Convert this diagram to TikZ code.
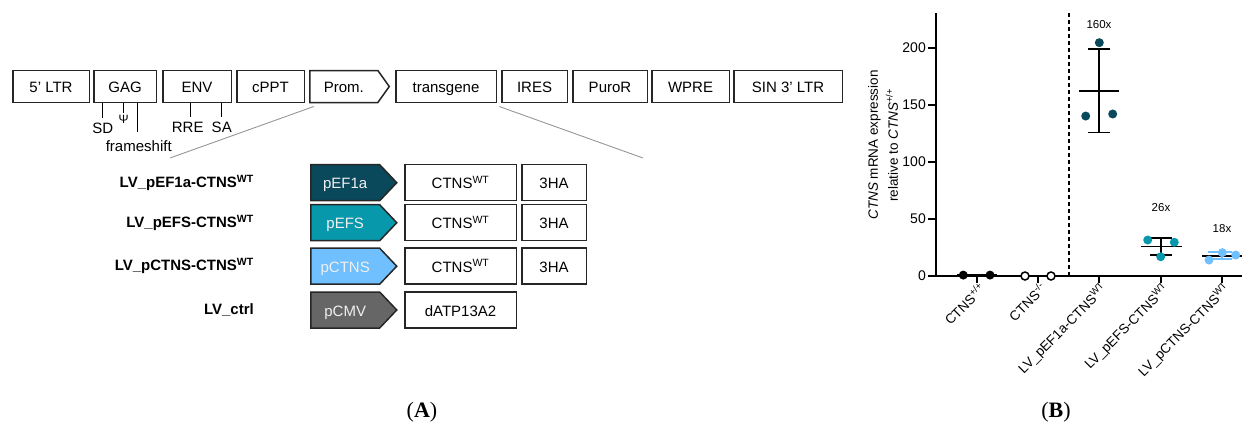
\documentclass[tikz,border=0pt]{standalone}
\usepackage{fontspec}
\setmainfont{Liberation Sans}
\newfontfamily\capfont{Liberation Serif}
\usetikzlibrary{positioning,calc,shapes.symbols}

\definecolor{efa}{RGB}{10,72,92}
\definecolor{efs}{RGB}{8,152,172}
\definecolor{ctnsp}{RGB}{112,192,255}
\definecolor{cmvp}{RGB}{102,102,102}
\definecolor{guide}{RGB}{150,150,150}

\tikzset{
  part/.style={draw=black!85,line width=1.5pt,outer sep=0pt,minimum height=32pt,inner sep=0pt,
    text height=12pt,text depth=0pt,font=\fontsize{15}{18}\selectfont},
  prom/.style={part,shape=signal,signal to=east,signal pointer angle=109},
  cassette/.style={draw=black!85,line width=1.5pt,outer sep=0pt,minimum height=36pt,inner sep=0pt,
    text height=12pt,text depth=0pt,font=\fontsize{15}{18}\selectfont},
  promo/.style={cassette,shape=signal,signal to=east,signal pointer angle=93,
    minimum width=86pt,fill=#1,text=white!88!gray},
  vecname/.style={anchor=east,inner sep=0pt,font=\bfseries\fontsize{15}{18}\selectfont},
  site/.style={inner sep=0pt,font=\fontsize{15}{18}\selectfont},
  axisline/.style={line width=1.6pt},
  errbar/.style={line width=1.6pt},
  datapt/.style={circle,inner sep=0pt,minimum size=9pt,fill=#1},
  ticklab/.style={anchor=east,inner sep=0pt,font=\fontsize{14}{16}\selectfont},
  grplab/.style={rotate=45,anchor=north east,inner sep=0pt,font=\fontsize{13.5}{16}\selectfont},
  foldlab/.style={font=\fontsize{11.5}{14}\selectfont},
}

\begin{document}
\begin{tikzpicture}[x=1pt,y=-1pt]
\useasboundingbox (0,0) rectangle (1250,429);

% vector map
\node[part,minimum width=76.5pt,anchor=west] (ltr5) at (12.75,86.5) {5' LTR};
\node[part,minimum width=62.5pt,right=4.5pt of ltr5] (gag) {GAG};
\node[part,minimum width=68.5pt,right=6.5pt of gag] (env) {ENV};
\node[part,minimum width=67.5pt,right=5.5pt of env] (cppt) {cPPT};
\node[prom,minimum width=79.5pt,right=5.5pt of cppt] (prom) {Prom.};
\node[part,minimum width=100.5pt,right=6.5pt of prom] (tg) {transgene};
\node[part,minimum width=65.5pt,right=5.5pt of tg] (ires) {IRES};
\node[part,minimum width=74.5pt,right=5.5pt of ires] (puro) {PuroR};
\node[part,minimum width=77.5pt,right=4.5pt of puro] (wpre) {WPRE};
\node[part,minimum width=108.5pt,right=4.5pt of wpre] (ltr3) {SIN 3' LTR};

\draw[line width=1pt] ([xshift=9pt]gag.south west) -- ++(0,15) node[site,below=5pt] (sd) {SD};
\draw[line width=1pt] ([xshift=30pt]gag.south west) -- ++(0,10) node[site,below=2pt,font=\fontsize{12}{14}\selectfont] (psi) {Ψ};
\draw[line width=1pt] ([xshift=44pt]gag.south west) -- ++(0,29) node[site,below=9pt,xshift=1pt] (fs) {frameshift};
\draw[line width=1pt] ([xshift=28pt]env.south west) -- ++(0,14) node[site,below=5pt,xshift=-3pt] (rre) {RRE};
\draw[line width=1pt] ([xshift=59pt]env.south west) -- ++(0,14) node[site,below=5pt] (sa) {SA};

\coordinate (zoomL) at (170,158);
\coordinate (zoomR) at (643,158);
\draw[guide,line width=0.9pt] ($(prom.west|-prom.south)+(4,4)$) -- (zoomL);
\draw[guide,line width=0.9pt] ($(tg.south east)+(3,4)$) -- (zoomR);

% constructs
\node[promo=efa,anchor=west] (p1) at (310.75,182.7) {pEF1a};
\node[cassette,minimum width=111.5pt,right=8pt of p1] (c1) {CTNS\textsuperscript{WT}};
\node[cassette,minimum width=64.5pt,right=5.5pt of c1] (h1) {3HA};
\node[vecname] (v1) at (254,182.7) {LV\_pEF1a-CTNS\textsuperscript{WT}};

\node[promo=efs,anchor=west] (p2) at (310.75,222.7) {pEFS};
\node[cassette,minimum width=111.5pt,right=8pt of p2] (c2) {CTNS\textsuperscript{WT}};
\node[cassette,minimum width=64.5pt,right=5.5pt of c2] (h2) {3HA};
\node[vecname] (v2) at (254,222.7) {LV\_pEFS-CTNS\textsuperscript{WT}};

\node[promo=ctnsp,anchor=west] (p3) at (310.75,266.2) {pCTNS};
\node[cassette,minimum width=111.5pt,right=8pt of p3] (c3) {CTNS\textsuperscript{WT}};
\node[cassette,minimum width=64.5pt,right=5.5pt of c3] (h3) {3HA};
\node[vecname] (v3) at (254,266.2) {LV\_pCTNS-CTNS\textsuperscript{WT}};

\node[promo=cmvp,anchor=west] (p4) at (310.75,310) {pCMV};
\node[cassette,minimum width=111.5pt,right=8pt of p4] (c4) {dATP13A2};
\node[vecname] (v4) at (254,310) {LV\_ctrl};

% expression plot
\node[rotate=90,align=center,font=\fontsize{13.5}{20}\selectfont] (ytitle) at (883,145)
  {\textit{CTNS} mRNA expression\\relative to \textit{CTNS}\textsuperscript{+/+}};
\begin{scope}[shift={(936,276)},y=1.1393pt]
\draw[axisline] (0,231) -- (0,0) -- (306,0);
\foreach \v in {0,50,100,150,200}{
  \draw[axisline] (-8,\v) -- (0,\v);
  \node[ticklab] (yt\v) at (-10,\v) {\v};
}
\foreach \x in {41,102,163,225,286}
  \draw[axisline] (\x,0) -- (\x,-6.2);
\draw[axisline,dash pattern=on 4pt off 3pt] (132.7,231) -- (132.7,0);

\node[grplab] (g1) at (42,-4.5) {CTNS\textsuperscript{+/+}};
\node[grplab] (g2) at (103,-4.5) {CTNS\textsuperscript{-/-}};
\node[grplab] (g3) at (164,-4.5) {LV\_pEF1a-CTNS\textsuperscript{WT}};
\node[grplab] (g4) at (226,-4.5) {LV\_pEFS-CTNS\textsuperscript{WT}};
\node[grplab] (g5) at (287,-4.5) {LV\_pCTNS-CTNS\textsuperscript{WT}};

% CTNS+/+ and CTNS-/-
\draw[errbar] (21,1) -- (61,1);
\node[datapt=black] at (27.3,0.8) {};
\node[datapt=black] at (54,0.8) {};
\draw[errbar] (84,0) -- (121,0);
\node[datapt=white,draw=black,line width=1.5pt,minimum size=8pt] at (89,0) {};
\node[datapt=white,draw=black,line width=1.5pt,minimum size=8pt] at (115,0) {};

% LV_pEF1a
\draw[errbar] (143,162.5) -- (183,162.5);
\draw[errbar] (152,125.8) -- (174,125.8) (163,125.8) -- (163,199) (152,199) -- (174,199);
\node[datapt=efa] at (149.7,140.4) {};
\node[datapt=efa] at (163.3,204.8) {};
\node[datapt=efa] at (176.7,142.2) {};
\node[foldlab] (f3) at (163,220.3) {160x};

% LV_pEFS
\draw[errbar] (204.7,26) -- (245.7,26);
\draw[errbar] (214,18.2) -- (235.7,18.2) (225,18.2) -- (225,33.6) (214,33.6) -- (235.7,33.6);
\node[datapt=efs] at (211.7,31.6) {};
\node[datapt=efs] at (238.3,29.6) {};
\node[datapt=efs] at (224.7,16.9) {};
\node[foldlab] (f4) at (225,60.3) {26x};

% LV_pCTNS
\draw[errbar] (266,17.6) -- (306,17.6);
\draw[errbar,ctnsp] (272,14.7) -- (295.7,14.7) (286,14.7) -- (286,21.3) (272,21.3) -- (295.7,21.3);
\node[datapt=ctnsp] at (273,14) {};
\node[datapt=ctnsp] at (286.3,20.5) {};
\node[datapt=ctnsp] at (299.7,18.4) {};
\node[foldlab] (f5) at (286,41.3) {18x};
\end{scope}

% panel captions
\node[font=\capfont\fontsize{22}{26}\selectfont] (capA) at (422,412) {(\textbf{A})};
\node[font=\capfont\fontsize{22}{26}\selectfont] (capB) at (1056,412) {(\textbf{B})};
\end{tikzpicture}
\end{document}
